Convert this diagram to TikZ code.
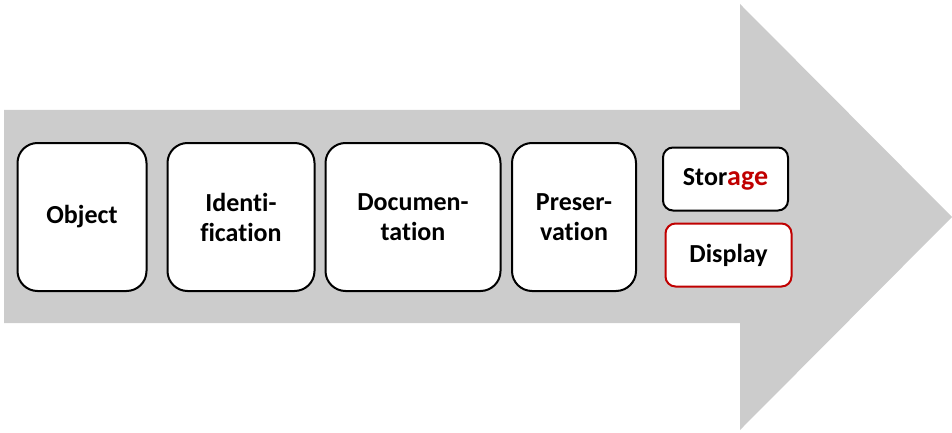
\documentclass[tikz,border=0pt]{standalone}
\usepackage{fontspec}
\setmainfont[Ligatures=NoCommon]{Carlito}
\definecolor{arrowgray}{HTML}{CCCCCC}
\definecolor{darkred}{HTML}{C00000}
\begin{document}
\begin{tikzpicture}[x=1pt,y=-1pt,
  bigbox/.style={draw=black,line width=2pt,fill=white,rounded corners=20pt,align=center,font=\fontsize{26}{30}\selectfont\bfseries},
  smallbox/.style={draw=black,line width=2pt,fill=white,rounded corners=10pt,align=center,font=\fontsize{26}{30}\selectfont\bfseries}]
\useasboundingbox (0,0) rectangle (952,433);
\fill[arrowgray] (4,110) -- (740,110) -- (740,4) -- (952,217) -- (740,430) -- (740,323) -- (4,323) -- cycle;
\node[bigbox,minimum width=129pt,minimum height=148pt] (obj) at (82,217) {Object};
\node[bigbox,minimum width=147pt,minimum height=148pt] (ident) at (241,217) {Identi-\\fication};
\node[bigbox,minimum width=175pt,minimum height=148pt] (doc) at (413,217) {Documen-\\tation};
\node[bigbox,minimum width=124pt,minimum height=148pt] (pres) at (574,217) {Preser-\\vation};
\node[smallbox,minimum width=125pt,minimum height=63pt] (stor) at (725.5,179) {Stor\textcolor{darkred}{\fontsize{28}{30}\selectfont age}};
\node[smallbox,draw=darkred,minimum width=126pt,minimum height=63pt] (disp) at (728.5,255) {Display};
\end{tikzpicture}
\end{document}
